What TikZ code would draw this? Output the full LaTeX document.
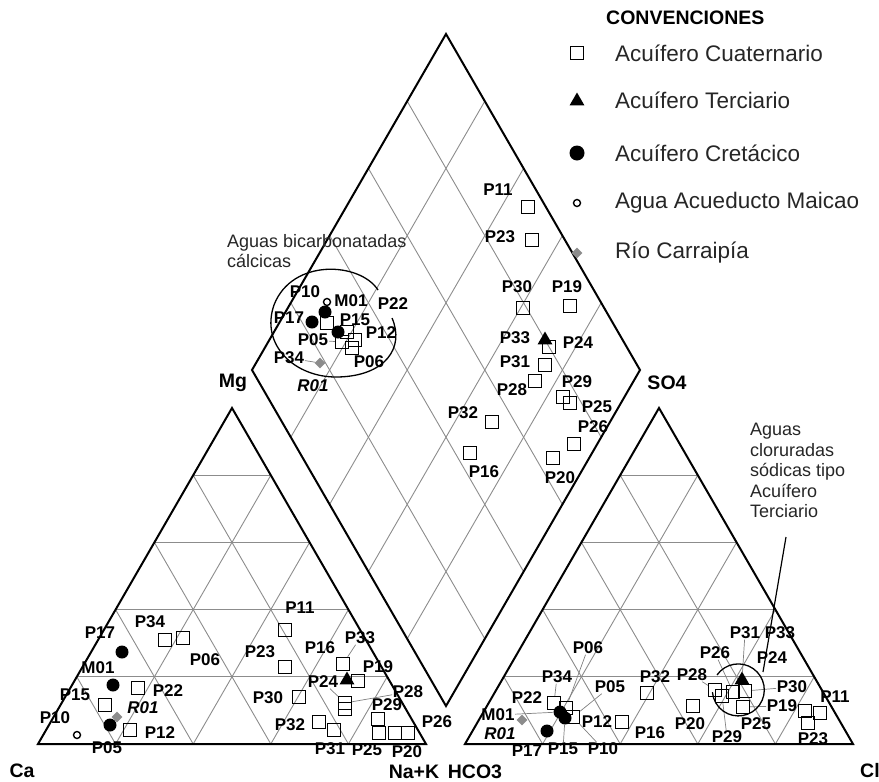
\documentclass[tikz,border=0pt]{standalone}
\usepackage{fontspec}
\setmainfont{Liberation Sans}
\usetikzlibrary{calc,shapes.geometric}
\tikzset{
 frame/.style={line width=2pt, line join=miter},
 gridl/.style={black!45, line width=0.9pt},
 sqm/.style={draw, rectangle, line width=1.3pt, minimum size=13pt, inner sep=0pt},
 trm/.style={regular polygon, regular polygon sides=3, fill=black, minimum size=17pt, inner sep=0pt},
 cim/.style={circle, fill=black, minimum size=13pt, inner sep=0pt},
 ocm/.style={circle, draw, line width=1.4pt, minimum size=7pt, inner sep=0pt},
 dim/.style={diamond, fill=black!45, minimum size=11pt, inner sep=0pt},
 lab/.style={font=\fontsize{17}{17}\selectfont\bfseries, inner sep=0.5pt},
 ilab/.style={font=\fontsize{17}{17}\selectfont\bfseries\itshape, inner sep=0.5pt},
 axl/.style={font=\fontsize{19.5}{19.5}\selectfont\bfseries, inner sep=0pt},
 note/.style={font=\fontsize{18}{20.5}\selectfont, align=left, inner sep=0pt, text=black!85},
 legt/.style={font=\fontsize{22.5}{22.5}\selectfont, anchor=west, inner sep=0pt, text=black!85},
 lead/.style={black!50, line width=0.7pt},
 curv/.style={line width=1.3pt},
}
\newcommand\mSq[3]{\node[sqm] (#1) at (#2,#3) {};}
\newcommand\mCi[3]{\node[cim] (#1) at (#2,#3) {};}
\newcommand\mOc[3]{\node[ocm] (#1) at (#2,#3) {};}
\newcommand\mDi[3]{\node[dim] (#1) at (#2,#3) {};}
\newcommand\mTr[3]{\node[trm] (#1) at (#2,#3) {};}
\newcommand\lbl[4]{\node[lab] (#1) at (#2,#3) {#4};}
\begin{document}
\begin{tikzpicture}[x=1pt,y=-1pt]
\useasboundingbox (0,0) rectangle (879,782);
% corners
\coordinate (A1) at (38,744); \coordinate (B1) at (426,744); \coordinate (C1) at (232,408);
\coordinate (A2) at (465,744); \coordinate (B2) at (853,744); \coordinate (C2) at (659,408);
\coordinate (L) at (252,370); \coordinate (T) at (446,34); \coordinate (R) at (640,370); \coordinate (Bm) at (446,706);
% grids
\foreach \t [evaluate=\t as \u using 1-\t] in {0.2,0.4,0.6,0.8} {
 \draw[gridl] ($(A1)!\t!(C1)$) -- ($(B1)!\t!(C1)$);
 \draw[gridl] ($(A1)!\t!(B1)$) -- ($(B1)!\u!(C1)$);
 \draw[gridl] ($(A1)!\t!(B1)$) -- ($(A1)!\t!(C1)$);
 \draw[gridl] ($(A2)!\t!(C2)$) -- ($(B2)!\t!(C2)$);
 \draw[gridl] ($(A2)!\t!(B2)$) -- ($(B2)!\u!(C2)$);
 \draw[gridl] ($(A2)!\t!(B2)$) -- ($(A2)!\t!(C2)$);
 \draw[gridl] ($(L)!\t!(Bm)$) -- ($(T)!\t!(R)$);
 \draw[gridl] ($(L)!\t!(T)$) -- ($(Bm)!\t!(R)$);
}
\draw[frame] (A1) -- (B1) -- (C1) -- cycle;
\draw[frame] (A2) -- (B2) -- (C2) -- cycle;
\draw[frame] (L) -- (T) -- (R) -- (Bm) -- cycle;

% ---------- left triangle (cations)
\mSq{a34}{165}{640} \mSq{a06}{183}{638}
\mSq{a22}{138}{688} \mSq{a15}{105}{705} \mSq{a12}{130}{730}
\mCi{a17}{122}{652} \mCi{aM}{113}{685} \mCi{a05}{110}{725}
\mOc{a10}{77}{735} \mDi{aR}{117}{717}
\mSq{a11}{285}{630} \mSq{a23}{285}{667} \mSq{a33}{343}{664} \mSq{a19}{358}{681}
\mTr{a24}{347}{680}
\mSq{a28}{345}{703} \mSq{a29}{345}{709} \mSq{a30}{299}{697}
\mSq{a32}{319}{722} \mSq{a31}{334}{730}
\mSq{a25}{378}{719} \mSq{a25b}{379}{733} \mSq{a20}{395}{733} \mSq{a26}{408}{733}
\lbl{la34}{150}{622}{P34} \lbl{la17}{100}{633}{P17} \lbl{laM}{98}{668}{M01}
\lbl{la22}{168}{691}{P22} \lbl{la15}{75}{695}{P15}
\node[ilab] (laR) at (143,708) {R01};
\lbl{la10}{55}{718}{P10} \lbl{la12}{160}{733}{P12} \lbl{la05}{107}{748}{P05}
\lbl{la06}{205}{660}{P06} \lbl{la11}{300}{608}{P11} \lbl{la23}{260}{652}{P23}
\lbl{la16}{320}{648}{P16} \lbl{la33}{360}{638}{P33} \lbl{la19}{378}{667}{P19}
\lbl{la24}{323}{682}{P24} \lbl{la30}{268}{698}{P30} \lbl{la28}{408}{692}{P28}
\lbl{la29}{387}{705}{P29} \lbl{la32}{290}{725}{P32} \lbl{la26}{437}{722}{P26}
\lbl{la31}{330}{749}{P31} \lbl{la25}{367}{750}{P25} \lbl{la20}{407}{752}{P20}
\draw[lead] (la33) -- (a33);
\draw[lead] (la28) -- (a28);
\draw[lead] (la24) -- (a28);

% ---------- diamond
\mOc{dM}{327}{302}
\mCi{d10}{325}{312} \mCi{d17}{312}{322} \mCi{d05}{338}{332}
\mSq{d15}{327}{323} \mSq{d22}{347}{332} \mSq{d12}{342}{342} \mSq{d06}{355}{340} \mSq{d34}{352}{348}
\mDi{dR}{320}{363}
\mSq{d11}{528}{207} \mSq{d23}{532}{240} \mSq{d30}{523}{308} \mSq{d19}{570}{306}
\mTr{d33}{545}{340} \mSq{d24}{549}{347} \mSq{d31}{545}{365} \mSq{d28}{535}{381}
\mSq{d29}{563}{397} \mSq{d25}{570}{403} \mSq{d32}{492}{422} \mSq{d26}{574}{444}
\mSq{d16}{470}{453} \mSq{d20}{553}{458}
\lbl{ld10}{305}{292}{P10} \lbl{ldM}{351}{301}{M01} \lbl{ld22}{393}{304}{P22}
\lbl{ld17}{289}{318}{P17} \lbl{ld15}{355}{320}{P15} \lbl{ld12}{381}{333}{P12}
\lbl{ld05}{313}{340}{P05} \lbl{ld34}{289}{358}{P34} \lbl{ld06}{369}{362}{P06}
\node[ilab] (ldR) at (313,386) {R01};
\lbl{ld11}{498}{190}{P11} \lbl{ld23}{500}{237}{P23} \lbl{ld30}{517}{287}{P30}
\lbl{ld19}{567}{287}{P19} \lbl{ld33}{515}{338}{P33} \lbl{ld24}{578}{343}{P24}
\lbl{ld31}{515}{362}{P31} \lbl{ld28}{512}{390}{P28} \lbl{ld29}{577}{382}{P29}
\lbl{ld25}{597}{407}{P25} \lbl{ld32}{463}{413}{P32} \lbl{ld26}{593}{427}{P26}
\lbl{ld16}{484}{472}{P16} \lbl{ld20}{560}{478}{P20}
\draw[lead] (ld05) -- (d12);
\draw[lead] (ld34) -- (dR);
\draw[curv] (378,290) .. controls (360,262) and (292,258) .. (274,305)
  .. controls (260,345) and (295,378) .. (338,377)
  .. controls (385,376) and (405,348) .. (392,318);
\node[note, anchor=west] (nb) at (227,251) {Aguas bicarbonatadas\\cálcicas};

% ---------- right triangle (anions)
\mSq{r22}{554}{703} \mSq{r34}{566}{708} \mSq{r12}{573}{717}
\mCi{rM}{560}{712} \mCi{r15}{565}{718} \mCi{r17}{547}{731}
\mDi{rR}{522}{720}
\mSq{r16}{622}{722} \mSq{r32}{647}{693}
\mSq{r20}{693}{706} \mSq{r28}{715}{690} \mSq{r29}{722}{696} \mSq{r26}{733}{692}
\mSq{r30}{745}{691} \mSq{r25}{743}{707} \mTr{r33}{742}{680}
\mSq{r11}{805}{711} \mSq{r19}{820}{713} \mSq{r23}{808}{723}
\lbl{lr06}{588}{648}{P06} \lbl{lr34}{557}{677}{P34} \lbl{lr05}{610}{687}{P05}
\lbl{lr32}{655}{677}{P32} \lbl{lr22}{527}{698}{P22} \lbl{lrM}{498}{715}{M01}
\node[ilab] (lrR) at (500,734) {R01};
\lbl{lr12}{597}{722}{P12} \lbl{lr16}{650}{733}{P16}
\lbl{lr17}{527}{751}{P17} \lbl{lr15}{563}{749}{P15} \lbl{lr10}{603}{749}{P10}
\lbl{lr31}{745}{633}{P31} \lbl{lr33}{780}{633}{P33} \lbl{lr26}{715}{653}{P26}
\lbl{lr24}{772}{658}{P24} \lbl{lr28}{692}{675}{P28} \lbl{lr30}{792}{687}{P30}
\lbl{lr19}{782}{706}{P19} \lbl{lr11}{835}{697}{P11} \lbl{lr20}{690}{724}{P20}
\lbl{lr25}{756}{724}{P25} \lbl{lr29}{727}{737}{P29} \lbl{lr23}{813}{739}{P23}
\draw[lead] (lr06) -- (r34);
\draw[lead] (lr34) -- (r22);
\draw[lead] (lr05) -- (r12);
\draw[lead] (lrM) -- (rM);
\draw[lead] (lr15) -- (r15);
\draw[lead] (lr10) -- (r12);
\draw[lead] (lr31) -- (r33);
\draw[lead] (lr26) -- (r26);
\draw[lead] (lr28) -- (r28);
\draw[lead] (lr30) -- (r30);
\draw[lead] (lr19) -- (r25);
\draw[lead] (lr29) -- (r29);
\draw[curv] (717,675) arc[start angle=215, end angle=535, radius=26];
\node[note, anchor=north west] (nc) at (750,423) {Aguas\\cloruradas\\sódicas tipo\\Acuífero\\Terciario};
\coordinate (pa) at (786,537);
\coordinate (pb) at (763,672);
\draw[line width=1.2pt] (pa) -- (pb);

% ---------- axis labels
\node[axl] (xCa) at (22,771) {Ca};
\node[axl] (xMg) at (233,383) {Mg};
\node[axl] (xSO) at (667,383) {SO4};
\node[axl] (xNa) at (414,772) {Na+K};
\node[axl] (xHC) at (475,772) {HCO3};
\node[axl, anchor=west] (xCl) at (860,771) {Cl};

% ---------- legend
\node[font=\fontsize{19.5}{19.5}\selectfont\bfseries, anchor=west, inner sep=0pt] (lgh) at (606,18) {CONVENCIONES};
\node[sqm] (lg1) at (577,53) {};
\node[legt] (lt1) at (615,53) {Acuífero Cuaternario};
\node[trm] (lg2) at (577,101) {};
\node[legt] (lt2) at (615,100) {Acuífero Terciario};
\node[cim, minimum size=15pt] (lg3) at (577,153) {};
\node[legt] (lt3) at (615,153) {Acuífero Cretácico};
\node[ocm] (lg4) at (577,203) {};
\node[legt] (lt4) at (615,203) {Agua Acueducto Maicao};
\node[dim] (lg5) at (577,253) {};
\node[legt] (lt5) at (615,253) {Río Carraipía};
\end{tikzpicture}
\end{document}
